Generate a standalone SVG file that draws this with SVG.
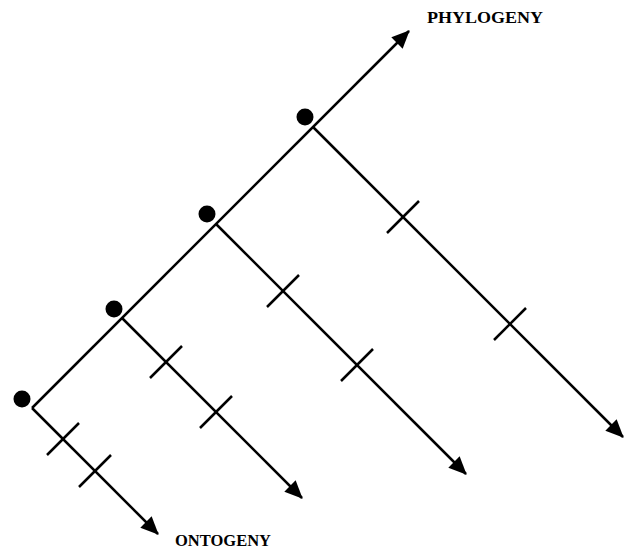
<svg xmlns="http://www.w3.org/2000/svg" width="630" height="553" viewBox="0 0 630 553">
<style>
.ln{stroke:#000;stroke-width:2.5;fill:none}
.tk{stroke:#000;stroke-width:2.5}
.dot{fill:#000}
.lbl{font-family:"Liberation Serif",serif;font-weight:bold;font-size:16px;fill:#000}
</style>
<defs>
<marker id="ah" markerUnits="userSpaceOnUse" markerWidth="20" markerHeight="18" refX="17" refY="8" orient="auto">
<path d="M0,0 L18,8 L0,16 z" fill="#000"/>
</marker>
</defs>
<g id="connectors">
<line class="ln" x1="32" y1="408" x2="409" y2="31" marker-end="url(#ah)"/>
<line class="ln" x1="32" y1="408" x2="158" y2="534" marker-end="url(#ah)"/>
<line class="ln" x1="122" y1="318" x2="302" y2="498" marker-end="url(#ah)"/>
<line class="ln" x1="216" y1="224" x2="466" y2="474" marker-end="url(#ah)"/>
<line class="ln" x1="313" y1="127" x2="623" y2="437" marker-end="url(#ah)"/>
</g>
<g id="ticks">
<line class="tk" x1="47" y1="455" x2="79" y2="423"/>
<line class="tk" x1="79" y1="487" x2="111" y2="455"/>
<line class="tk" x1="150" y1="378" x2="182" y2="346"/>
<line class="tk" x1="200" y1="428" x2="232" y2="396"/>
<line class="tk" x1="267" y1="307" x2="299" y2="275"/>
<line class="tk" x1="341" y1="381" x2="373" y2="349"/>
<line class="tk" x1="387" y1="233" x2="419" y2="201"/>
<line class="tk" x1="494" y1="340" x2="526" y2="308"/>
</g>
<g id="node1"><circle class="dot" cx="22" cy="399" r="8.5"/></g>
<g id="node2"><circle class="dot" cx="114" cy="309" r="8.5"/></g>
<g id="node3"><circle class="dot" cx="207" cy="214" r="8.5"/></g>
<g id="node4"><circle class="dot" cx="305" cy="117" r="8.5"/></g>
<g id="label-phylogeny"><text class="lbl" x="427" y="23" textLength="116" lengthAdjust="spacingAndGlyphs">PHYLOGENY</text></g>
<g id="label-ontogeny"><text class="lbl" x="175" y="546" textLength="96" lengthAdjust="spacingAndGlyphs">ONTOGENY</text></g>
</svg>
